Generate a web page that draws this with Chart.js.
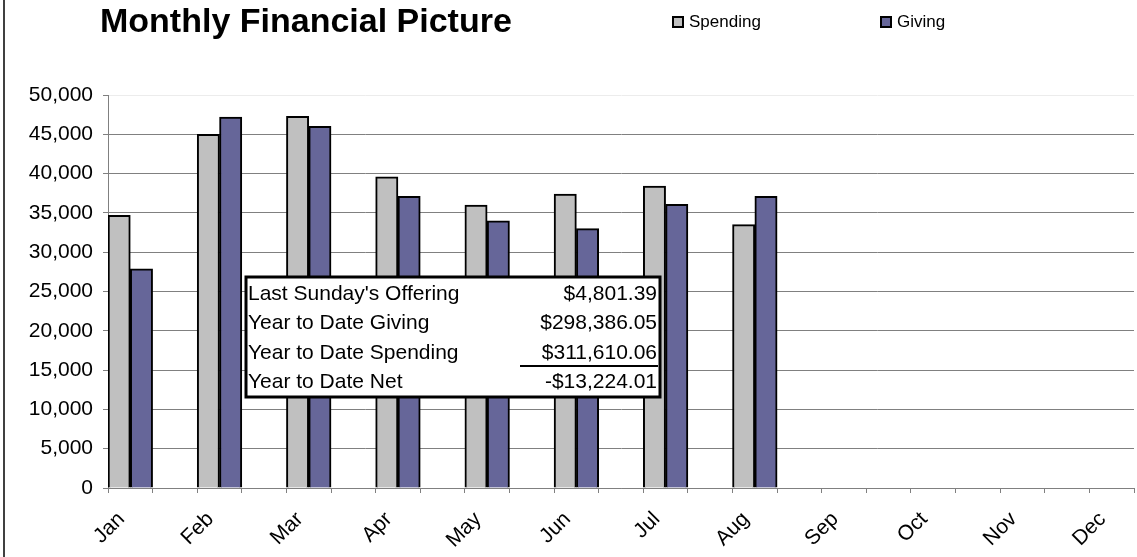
<!DOCTYPE html>
<html>
<head>
<meta charset="utf-8">
<script src="https://cdn.jsdelivr.net/npm/chart.js@4/dist/chart.umd.min.js"></script>
<style>
  html, body { margin: 0; padding: 0; background: #fff; }
  #wrap { position: relative; width: 1137px; height: 557px; }
</style>
</head>
<body>
<div id="wrap"><canvas id="financeChart" width="1137" height="557"></canvas></div>
<script>
// Dados
const months = ['Jan', 'Feb', 'Mar', 'Apr', 'May', 'Jun', 'Jul', 'Aug', 'Sep', 'Oct', 'Nov', 'Dec'];
const spending = [34700, 45000, 47300, 39600, 36000, 37400, 38400, 33500];
const giving = [27900, 47200, 46000, 37100, 34000, 33000, 36100, 37100];
const summaryLabels = ["Last Sunday's Offering", 'Year to Date Giving', 'Year to Date Spending', 'Year to Date Net'];
const summaryValues = ['$4,801.39', '$298,386.05', '$311,610.06', '-$13,224.01'];

const FONT = '"Liberation Sans", Arial, sans-serif';
const SPEND_COLOR = '#C0C0C0';
const GIVE_COLOR = '#666699';

// O gráfico original usa uma categoria vazia entre cada mês
const slotLabels = [];
months.forEach((m, i) => {
    slotLabels.push(m);
    if (i < months.length - 1) slotLabels.push('');
});
const spendData = slotLabels.map((l, i) => i % 2 === 0 ? (spending[i / 2] ?? null) : null);
const giveData = slotLabels.map((l, i) => i % 2 === 0 ? (giving[i / 2] ?? null) : null);

// Título, legenda, caixa de resumo e moldura
const overlayPlugin = {
    id: 'overlay',
    afterDraw(chart) {
        const ctx = chart.ctx;
        ctx.save();

        // moldura esquerda
        ctx.strokeStyle = '#404040';
        ctx.lineWidth = 2;
        ctx.beginPath();
        ctx.moveTo(4, 0);
        ctx.lineTo(4, 557);
        ctx.stroke();

        // título
        ctx.fillStyle = '#000';
        ctx.font = 'bold 34px ' + FONT;
        ctx.textBaseline = 'alphabetic';
        ctx.textAlign = 'left';
        ctx.fillText('Monthly Financial Picture', 100, 32);

        // legenda
        const legend = [
            { text: 'Spending', color: SPEND_COLOR, x: 673 },
            { text: 'Giving', color: GIVE_COLOR, x: 881 }
        ];
        ctx.font = '17px ' + FONT;
        ctx.textBaseline = 'middle';
        legend.forEach(item => {
            ctx.fillStyle = item.color;
            ctx.fillRect(item.x, 17, 10, 10);
            ctx.strokeStyle = '#000';
            ctx.lineWidth = 2;
            ctx.strokeRect(item.x, 17, 10, 10);
            ctx.fillStyle = '#000';
            ctx.fillText(item.text, item.x + 16, 22);
        });

        // caixa de resumo
        const bx = 246, by = 277, bw = 414, bh = 120;
        ctx.fillStyle = '#fff';
        ctx.fillRect(bx, by, bw, bh);
        ctx.strokeStyle = '#000';
        ctx.lineWidth = 3;
        ctx.strokeRect(bx, by, bw, bh);
        ctx.font = '21px ' + FONT;
        ctx.fillStyle = '#000';
        summaryLabels.forEach((label, i) => {
            const y = 294 + i * 29.5;
            ctx.textAlign = 'left';
            ctx.fillText(label, bx + 2, y);
            ctx.textAlign = 'right';
            ctx.fillText(summaryValues[i], bx + bw - 3, y);
        });
        // linha de soma
        ctx.lineWidth = 2;
        ctx.beginPath();
        ctx.moveTo(520, 366);
        ctx.lineTo(bx + bw - 2, 366);
        ctx.stroke();

        ctx.restore();
    }
};

const ctx = document.getElementById('financeChart').getContext('2d');
new Chart(ctx, {
    type: 'bar',
    data: {
        labels: slotLabels,
        datasets: [
            {
                label: 'Spending',
                data: spendData,
                backgroundColor: SPEND_COLOR,
                borderColor: '#000',
                borderWidth: 2,
                categoryPercentage: 1.0,
                barPercentage: 1.0
            },
            {
                label: 'Giving',
                data: giveData,
                backgroundColor: GIVE_COLOR,
                borderColor: '#000',
                borderWidth: 2,
                categoryPercentage: 1.0,
                barPercentage: 1.0
            }
        ]
    },
    options: {
        responsive: false,
        animation: false,
        layout: { padding: { top: 95, right: 3, left: 0, bottom: 0 } },
        plugins: {
            legend: { display: false },
            title: { display: false },
            tooltip: { enabled: false }
        },
        scales: {
            x: {
                offset: true,
                grid: {
                    display: true,
                    drawOnChartArea: false,
                    drawTicks: true,
                    tickLength: 5,
                    color: '#808080',
                    offset: true
                },
                border: { color: '#808080', width: 1 },
                ticks: {
                    color: '#000',
                    font: { family: FONT, size: 21 },
                    autoSkip: false,
                    minRotation: 45,
                    maxRotation: 45,
                    padding: 14,
                    labelOffset: -9
                },
                afterFit: scale => {
                    scale.height = 69;
                    scale.paddingLeft = 0;
                    scale.paddingRight = 0;
                }
            },
            y: {
                min: 0,
                max: 50000,
                grid: {
                    color: c => (c.tick && c.tick.value === 50000) ? '#ececec' : '#808080',
                    tickColor: '#808080',
                    tickLength: 5,
                    drawTicks: true
                },
                border: { color: '#808080', width: 1 },
                ticks: {
                    stepSize: 5000,
                    color: '#000',
                    font: { family: FONT, size: 21 },
                    padding: 10,
                    callback: v => v.toLocaleString('en-US')
                },
                afterFit: scale => { scale.width = 108; }
            }
        }
    },
    plugins: [overlayPlugin]
});
</script>
</body>
</html>
